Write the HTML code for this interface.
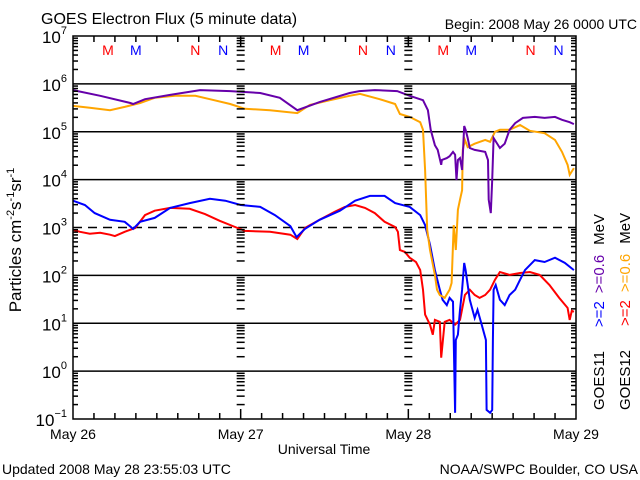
<!DOCTYPE html>
<html><head><meta charset="utf-8"><style>
html,body{margin:0;padding:0;background:#fff;}
svg{display:block;font-family:"Liberation Sans",sans-serif;}
</style></head><body>
<svg id="chart" width="640" height="480" viewBox="0 0 640 480" xmlns="http://www.w3.org/2000/svg">
<rect width="640" height="480" fill="#fff"/>
<text x="41" y="24" font-size="16">GOES Electron Flux (5 minute data)</text>
<text x="637" y="29" font-size="14" text-anchor="end">Begin: 2008 May 26 0000 UTC</text>
<g id="grid"></g>
<g id="series"></g>
<g id="ticks"></g>
<rect x="73" y="36" width="503" height="383" fill="none" stroke="#000" stroke-width="1.5"/>
<g id="labels"></g>
<text transform="translate(21,240) rotate(-90)" font-size="17" text-anchor="middle">Particles cm<tspan font-size="11" dy="-7">-2</tspan><tspan dy="7">s</tspan><tspan font-size="11" dy="-7">-1</tspan><tspan dy="7">sr</tspan><tspan font-size="11" dy="-7">-1</tspan></text>
<text x="324" y="454" font-size="14" text-anchor="middle">Universal Time</text>
<text x="2" y="474" font-size="14">Updated 2008 May 28 23:55:03 UTC</text>
<text x="638" y="474" font-size="14" text-anchor="end">NOAA/SWPC Boulder, CO USA</text>
<text transform="translate(604,410) rotate(-90)" font-size="15"><tspan fill="#000">GOES11</tspan><tspan dx="24" fill="#0000ff">&gt;=2</tspan><tspan dx="8" fill="#6600aa">&gt;=0.6</tspan><tspan dx="10" fill="#000">MeV</tspan></text>
<text transform="translate(630,410) rotate(-90)" font-size="15"><tspan fill="#000">GOES12</tspan><tspan dx="24" fill="#ff0000">&gt;=2</tspan><tspan dx="8" fill="#ffa500">&gt;=0.6</tspan><tspan dx="10" fill="#000">MeV</tspan></text>
</svg>
<script>
const dayLabels = ["May 26","May 27","May 28","May 29"];
const decadeExps = [7,6,5,4,3,2,1,0,-1];
const mnLabels = ["M","M","N","N"];
const mnHours = [5,9,17.5,21.5];
const p11t = [0,3.9,8.2,8.6,10.3,13.9,18.2,22.5,26.8,29.6,32.1,35.3,39.6,41,43.2,46.4,48.2,50.1,50.8,51.2,51.8,52.2,52.7,52.8,53.5,53.9,54.4,54.7,54.9,55.1,55.4,55.7,56.0,56.2,56.5,56.8,57.5,59.0,59.4,59.5,59.8,60.0,60.2,61.1,61.8,62.5,63.3,64.4,66.1,67.5,69.0,70.0,71.1,71.7];
const p11v = [5.87,5.75,5.60,5.58,5.68,5.77,5.87,5.85,5.81,5.71,5.45,5.62,5.81,5.85,5.87,5.85,5.75,5.66,5.45,5.04,4.72,4.62,4.31,4.41,4.45,4.49,4.58,4.52,3.99,4.41,4.45,4.20,5.12,5.04,4.87,4.66,4.62,4.58,4.41,3.58,3.30,3.99,4.87,4.66,4.75,5.04,5.18,5.29,5.31,5.29,5.31,5.25,5.20,5.16];
const p12t = [0,2.4,5.3,7.4,9.6,11.7,14.6,17.5,19.6,22.5,24.6,28.2,32.1,33.9,36.8,39.6,41.1,43.9,46.1,46.8,48.2,49.7,50.1,50.4,50.7,51.1,51.8,52.1,52.5,53.2,53.9,54.2,54.5,54.8,55.1,55.4,55.7,55.8,56.1,56.5,57.5,59.0,59.7,60.4,61.1,62.5,64.0,65.4,67.5,69.0,70.0,70.8,71.1,71.7];
const p12v = [5.54,5.50,5.45,5.52,5.60,5.71,5.75,5.75,5.68,5.58,5.48,5.45,5.39,5.56,5.66,5.75,5.79,5.68,5.58,5.37,5.31,5.20,5.04,4.20,2.95,2.53,2.01,1.70,1.59,1.53,1.70,1.84,3.05,2.53,3.37,3.58,3.78,4.62,4.83,4.68,4.75,4.83,4.79,5.00,5.04,5.04,5.14,5.02,4.97,4.83,4.58,4.31,4.10,4.24];
const e11t = [0,1.7,3.1,5.3,7.4,8.6,9.6,11.7,13.9,16.7,19.6,21.8,24.0,26.8,28.9,31.1,32.0,33.2,35.3,38.2,40.4,42.5,44.6,46.1,48.2,49.7,50.4,51.1,51.8,52.5,52.9,53.5,53.9,54.4,54.7,54.8,55.1,55.4,55.7,56.0,56.2,56.8,57.5,57.9,58.5,59.1,59.2,59.7,60.0,60.1,60.2,60.5,61.1,61.8,62.5,63.3,64.0,64.7,66.1,67.5,69.0,70.4,71.7];
const e11v = [3.56,3.47,3.30,3.16,3.12,2.97,3.12,3.20,3.41,3.51,3.60,3.56,3.47,3.43,3.26,3.03,2.80,2.97,3.16,3.35,3.56,3.66,3.66,3.51,3.43,3.26,3.05,2.64,2.11,1.70,1.49,1.38,1.53,1.45,-0.87,0.65,0.76,1.28,1.70,2.26,2.11,1.49,1.11,1.28,0.97,0.65,-0.81,-0.87,-0.81,0.65,1.70,1.80,1.49,1.38,1.59,1.70,1.91,2.11,2.32,2.28,2.37,2.26,2.11];
const e12t = [0,1.0,2.4,3.9,5.3,6.0,7.4,8.9,10.3,11.7,13.9,16.7,18.9,21.0,23.2,24.6,28.2,31.1,32.1,33.2,35.3,37.5,38.9,40.4,41.8,43.2,44.6,46.1,46.5,46.8,47.5,48.2,49.1,49.7,50.1,50.4,51.1,51.5,51.8,52.5,52.7,53.2,53.9,54.7,55.4,56.1,56.8,57.5,58.2,59.0,59.7,60.4,61.1,62.5,64.0,65.4,66.8,68.2,69.6,70.8,71.1,71.4,71.7];
const e12v = [2.95,2.91,2.87,2.89,2.85,2.82,2.91,2.99,3.26,3.35,3.41,3.39,3.28,3.14,3.01,2.93,2.91,2.85,2.76,2.99,3.16,3.33,3.43,3.47,3.41,3.30,3.12,3.01,2.91,2.53,2.49,2.37,2.28,2.11,1.70,1.18,0.97,0.76,1.07,1.03,0.28,1.03,1.07,0.97,1.07,1.59,1.70,1.59,1.53,1.59,1.70,1.91,2.07,2.01,2.05,2.07,2.01,1.80,1.53,1.32,1.07,1.26,1.24];

const X0=73, X1=576, Y0=36, Y1=419, HOURS=72;
const xs = h => X0 + (X1-X0)*h/HOURS;
const ys = l => Y0 + (Y1-Y0)*(7-l)/8;
const NS="http://www.w3.org/2000/svg";
function mk(tag, parent, attrs){const e=document.createElementNS(NS,tag);for(const k in attrs)e.setAttribute(k,attrs[k]);parent.appendChild(e);return e;}
const grid=document.getElementById('grid'), ticks=document.getElementById('ticks'), labels=document.getElementById('labels'), series=document.getElementById('series');

decadeExps.forEach(ex=>{
  const y=ys(ex);
  if(ex<7 && ex>-1){
    const l=mk('line',grid,{x1:X0,x2:X1,y1:y,y2:y,stroke:'#000','stroke-width':1.5});
    if(ex===3) l.setAttribute('stroke-dasharray','9,6');
    
    
  }
  const t=mk('text',labels,{x:X0-6,y:y+7,'font-size':17,'text-anchor':'end'});
  
  
  t.textContent='10';
  const s=mk('tspan',t,{'font-size':11,dy:-9});
  s.textContent=String(ex).replace('-','\u2212');
  if(ex>-1){
    for(let m=2;m<=9;m++){
      const yy=ys(ex-1+Math.log10(m));
      [[X0,X0+5],[X1-5,X1],[xs(24)-4,xs(24)+4],[xs(48)-4,xs(48)+4]].forEach(p=>{
        const tk=mk('line',ticks,{x1:p[0],x2:p[1],y1:yy,y2:yy,stroke:'#000','stroke-width':1.5});
        
        
      });
    }
  }
});
for(let h=3;h<HOURS;h+=3){
  const len = h%24===0 ? 10 : 6;
  [[Y1,Y1-len],[Y0,Y0+len]].forEach(p=>{
    const tk=mk('line',ticks,{x1:xs(h),x2:xs(h),y1:p[0],y2:p[1],stroke:'#000','stroke-width':1.5});
    
    
  });
}
dayLabels.forEach((d,i)=>{
  const t=mk('text',labels,{x:xs(i*24),y:439,'font-size':14,'text-anchor':'middle'});
  
  
  t.textContent=d;
});
for(let day=0;day<3;day++){
  mnHours.forEach((h,i)=>{
    const t=mk('text',labels,{x:xs(day*24+h),y:55,'font-size':14,'text-anchor':'middle',fill:(i%2===0)?'#ff0000':'#0000ff'});
    
    
    t.textContent=mnLabels[i];
  });
}
function drawSeries(ts,vs,color,name){
  const pts=ts.map((t,i)=>xs(t).toFixed(1)+','+ys(vs[i]).toFixed(1)).join(' ');
  const p=mk('polyline',series,{points:pts,fill:'none',stroke:color,'stroke-width':2,'stroke-linejoin':'miter'});
  
  
}
drawSeries(e12t,e12v,'#ff0000','goes12-2mev-line');
drawSeries(e11t,e11v,'#0000ff','goes11-2mev-line');
drawSeries(p12t,p12v,'#ffa500','goes12-0.6mev-line');
drawSeries(p11t,p11v,'#6600aa','goes11-0.6mev-line');
</script>
</body></html>
